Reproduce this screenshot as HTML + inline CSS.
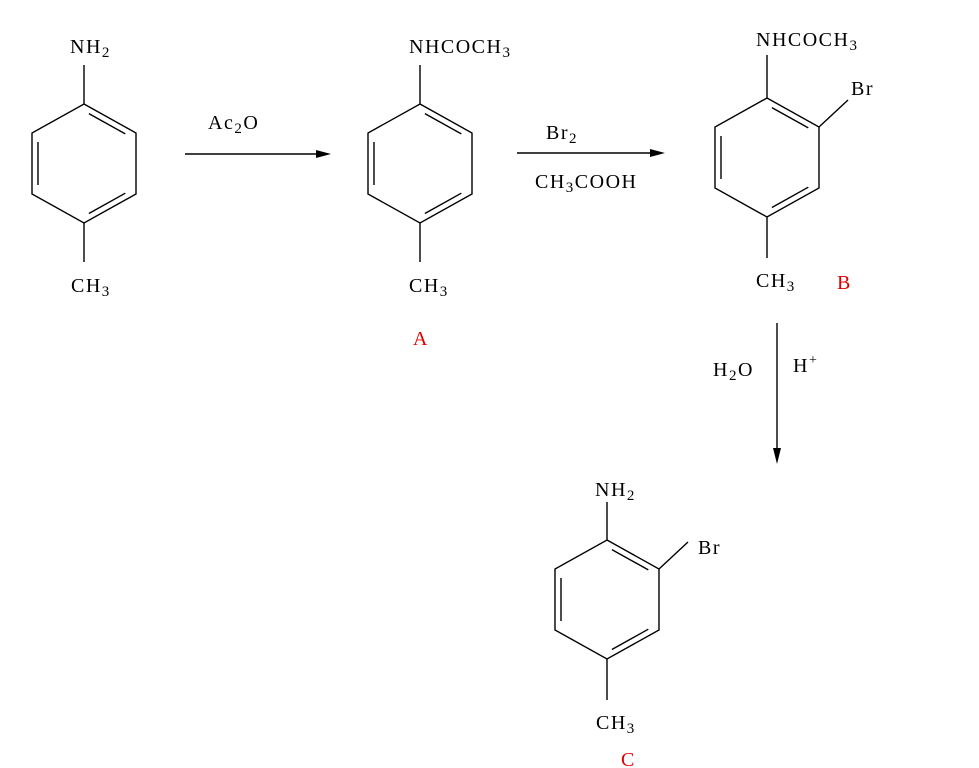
<!DOCTYPE html>
<html><head><meta charset="utf-8"><style>
html,body{margin:0;padding:0;background:#fff;}
svg{display:block;}
text{font-family:"Liberation Serif",serif;font-size:20px;fill:#000;letter-spacing:1.5px;}
.r{fill:#e00000;}
</style></head><body>
<svg width="979" height="768" viewBox="0 0 979 768" xmlns="http://www.w3.org/2000/svg">
<defs>
<g id="ring" stroke="#000" stroke-width="1.4" fill="none">
<polygon points="0,0 52,29 52,90 0,119 -52,90 -52,29"/>
<line x1="4.9" y1="9.6" x2="41.3" y2="29.9"/>
<line x1="-46" y1="38" x2="-46" y2="81"/>
<line x1="41.3" y1="89.2" x2="4.9" y2="109.5"/>
</g>
</defs>
<g stroke="#000" stroke-width="1.4">
<line x1="84" y1="65" x2="84" y2="104"/>
<line x1="84" y1="223" x2="84" y2="262"/>
<line x1="420" y1="65" x2="420" y2="104"/>
<line x1="420" y1="223" x2="420" y2="262"/>
<line x1="767" y1="55" x2="767" y2="98"/>
<line x1="767" y1="217" x2="767" y2="258"/>
<line x1="819" y1="127" x2="848" y2="100"/>
<line x1="607" y1="502" x2="607" y2="540"/>
<line x1="607" y1="659" x2="607" y2="700"/>
<line x1="659" y1="569" x2="688" y2="542"/>
<line x1="185" y1="154" x2="318" y2="154"/>
<line x1="517" y1="153" x2="652" y2="153"/>
<line x1="777" y1="323" x2="777" y2="450"/>
</g>
<polygon points="316,150 331,154 316,158" fill="#000"/>
<polygon points="650,149 665,153 650,157" fill="#000"/>
<polygon points="773,448 777,464 781,448" fill="#000"/>
<use href="#ring" x="84" y="104"/>
<use href="#ring" x="420" y="104"/>
<use href="#ring" x="767" y="98"/>
<use href="#ring" x="607" y="540"/>
<text x="70" y="53">NH<tspan font-size="15" dy="4">2</tspan></text>
<text x="71" y="292">CH<tspan font-size="15" dy="4">3</tspan></text>
<text x="208" y="129" letter-spacing="3">Ac<tspan font-size="15" dy="4">2</tspan><tspan dy="-4">O</tspan></text>
<text x="409" y="53" letter-spacing="3">NHCOCH<tspan font-size="15" dy="4">3</tspan></text>
<text x="409" y="292">CH<tspan font-size="15" dy="4">3</tspan></text>
<text x="413" y="345" class="r">A</text>
<text x="546" y="139">Br<tspan font-size="15" dy="4">2</tspan></text>
<text x="535" y="188" letter-spacing="3">CH<tspan font-size="15" dy="4">3</tspan><tspan dy="-4">COOH</tspan></text>
<text x="756" y="46" letter-spacing="3">NHCOCH<tspan font-size="15" dy="4">3</tspan></text>
<text x="851" y="95">Br</text>
<text x="756" y="287">CH<tspan font-size="15" dy="4">3</tspan></text>
<text x="837" y="289" class="r">B</text>
<text x="713" y="376">H<tspan font-size="15" dy="4">2</tspan><tspan dy="-4">O</tspan></text>
<text x="793" y="372">H<tspan font-size="14" dy="-8">+</tspan></text>
<text x="595" y="496">NH<tspan font-size="15" dy="4">2</tspan></text>
<text x="698" y="554">Br</text>
<text x="596" y="729">CH<tspan font-size="15" dy="4">3</tspan></text>
<text x="621" y="766" class="r">C</text>
</svg>
</body></html>
